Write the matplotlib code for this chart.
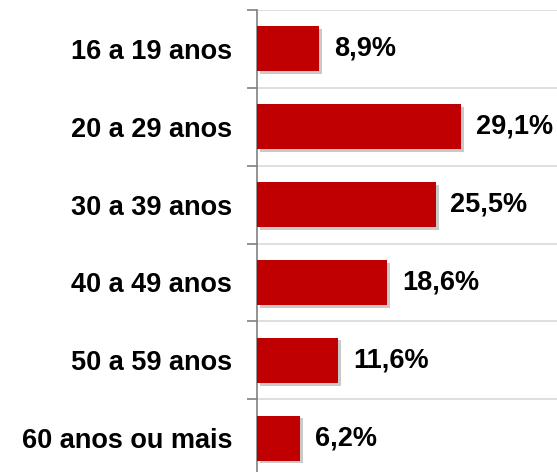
import matplotlib.pyplot as plt
import matplotlib.patheffects as pe
import numpy as np

categories = ['16 a 19 anos', '20 a 29 anos', '30 a 39 anos',
              '40 a 49 anos', '50 a 59 anos', '60 anos ou mais']
values = [8.9, 29.1, 25.5, 18.6, 11.6, 6.2]
labels = ['8,9%', '29,1%', '25,5%', '18,6%', '11,6%', '6,2%']

plt.rcParams['font.family'] = ['Liberation Sans', 'DejaVu Sans']

fig = plt.figure(figsize=(5.57, 4.72), dpi=100)
ax = fig.add_axes([257/557, -5/472, 300/557, 467/472])

y = np.arange(len(categories))
bars = ax.barh(y, values, height=0.58, color='#C00000', zorder=3)
for b in bars:
    b.set_path_effects([pe.SimplePatchShadow(offset=(2, -2), shadow_rgbFace='#888888', alpha=0.45),
                        pe.Normal()])

for yi, v, lab in zip(y, values, labels):
    ax.annotate(lab, (v, yi), xytext=(10.5, 0), textcoords='offset points',
                va='center', ha='left', fontsize=19.5, fontweight='bold')

ax.set_xlim(0, 42.8)
ax.set_ylim(len(categories) - 0.5, -0.5)

ax.set_yticks(y)
ax.set_yticklabels(categories, fontsize=19.5, fontweight='bold')
ax.tick_params(axis='y', length=0, pad=18)
ax.set_yticks(np.arange(-0.5, len(categories), 1), minor=True)
ax.tick_params(axis='y', which='minor', length=7, color='#808080', width=1.2)
ax.grid(axis='y', which='minor', color='#d9d9d9', linewidth=1.2, zorder=0)
ax.set_xticks([])

for s in ['top', 'right', 'bottom']:
    ax.spines[s].set_visible(False)
ax.spines['left'].set_color('#808080')
ax.spines['left'].set_linewidth(1.2)

fig.savefig('out.png', dpi=100)
